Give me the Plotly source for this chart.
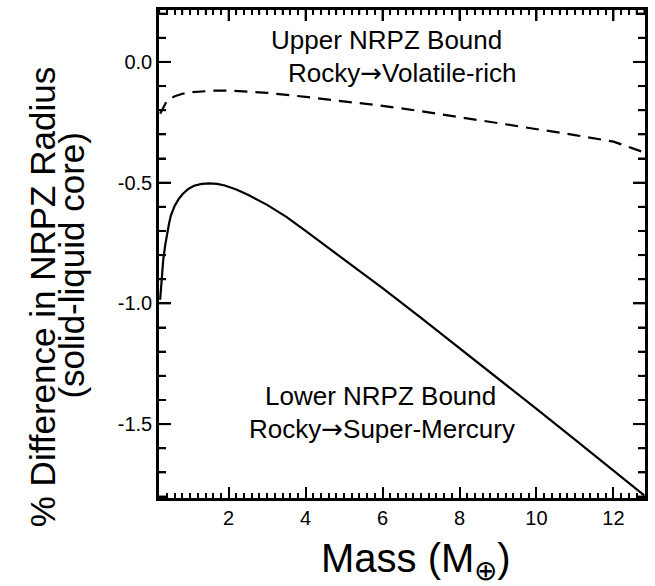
import plotly.graph_objects as go

# ---- data ----
mass_upper = [0.22, 0.3, 0.4, 0.6, 0.8, 1.0, 1.3, 1.6, 2.0, 2.5, 3.0, 4.0, 5.0, 6.0,
              7.0, 8.0, 9.0, 10.0, 11.0, 12.0, 12.75]
diff_upper = [-0.215, -0.19, -0.16, -0.142, -0.132, -0.126, -0.121, -0.119, -0.119,
              -0.122, -0.128, -0.145, -0.163, -0.182, -0.204, -0.228, -0.252, -0.277,
              -0.303, -0.33, -0.372]

mass_lower = [0.22, 0.26, 0.3, 0.35, 0.4, 0.45, 0.5, 0.6, 0.7, 0.8, 0.95, 1.1, 1.3, 1.5,
              1.7, 1.9, 2.2, 2.5, 3.0, 3.5, 4.0, 5.0, 6.0, 7.0, 8.0, 9.0, 10.0, 11.0,
              12.0, 12.8]
diff_lower = [-0.985, -0.9, -0.82, -0.76, -0.71, -0.67, -0.635, -0.595, -0.568, -0.548,
              -0.526, -0.513, -0.505, -0.503, -0.505, -0.512, -0.528, -0.55, -0.592,
              -0.642, -0.70, -0.817, -0.937, -1.06, -1.185, -1.311, -1.437, -1.564,
              -1.692, -1.795]

x_tickvals = [2, 4, 6, 8, 10, 12]
x_ticktext = ["2", "4", "6", "8", "10", "12"]
y_tickvals = [0.0, -0.5, -1.0, -1.5]
y_ticktext = ["0.0", "-0.5", "-1.0", "-1.5"]

ARROW = "<span style=\"font-family:'DejaVu Sans'\">\u2192</span>"
upper_label = ["Upper NRPZ Bound", "Rocky" + ARROW + "Volatile-rich"]
lower_label = ["Lower NRPZ Bound", "Rocky" + ARROW + "Super-Mercury"]
x_title = "Mass (M<sub>\u2295</sub>)"
y_title = ["% Difference in NRPZ Radius", "(solid-liquid core)"]

# ---- layout geometry ----
W, H = 655, 586
L, R, T, B = 159, 648, 10, 498
FONT = "Liberation Sans, Arial, Helvetica, sans-serif"
X_RANGE = [0.19, 12.82]
Y_RANGE = [-1.806, 0.215]
X_SCALE = (R - L) / (X_RANGE[1] - X_RANGE[0])   # px per x unit
Y_SCALE = (B - T) / (Y_RANGE[1] - Y_RANGE[0])   # px per y unit

X_MINOR = [round(0.2 * k, 1) for k in range(1, 65)
           if X_RANGE[0] < 0.2 * k <= X_RANGE[1] and k % 10 != 0]
Y_MINOR = [round(-0.1 * k, 1) for k in range(-2, 19) if k % 5 != 0]


def px(xp):
    return (xp - L) / (R - L)


def py(yp):
    return (B - yp) / (B - T)


def tick_segments(vals, along, length_px):
    """Inside ticks for the top ('x') or left/right ('y') frame sides."""
    xs, ys = [], []
    for v in vals:
        if along == "top":
            y0 = Y_RANGE[1]
            xs += [v, v, None]
            ys += [y0, y0 - length_px / Y_SCALE, None]
        elif along == "right":
            x0 = X_RANGE[1]
            xs += [x0, x0 - length_px / X_SCALE, None]
            ys += [v, v, None]
        else:  # left
            x0 = X_RANGE[0]
            xs += [x0, x0 + length_px / X_SCALE, None]
            ys += [v, v, None]
    return xs, ys


fig = go.Figure()
fig.add_trace(go.Scatter(x=mass_upper, y=diff_upper, mode="lines",
                         line=dict(color="black", width=2.2, dash="13px,8px"),
                         showlegend=False))
fig.add_trace(go.Scatter(x=mass_lower, y=diff_lower, mode="lines",
                         line=dict(color="black", width=2.2),
                         showlegend=False))

# frame ticks on the top, right and left sides (drawn through the data scales)
for vals, side, length, width in [(x_tickvals, "top", 11, 2), (X_MINOR, "top", 5, 1.5),
                                  (y_tickvals, "right", 12, 2), (Y_MINOR, "right", 7, 2),
                                  (y_tickvals, "left", 12, 2), (Y_MINOR, "left", 7, 2)]:
    tx, ty = tick_segments(vals, side, length)
    fig.add_trace(go.Scatter(x=tx, y=ty, mode="lines", showlegend=False,
                             hoverinfo="skip", line=dict(color="black", width=width)))

fig.update_layout(
    xaxis=dict(range=X_RANGE, tickmode="array", tickvals=x_tickvals,
               ticktext=x_ticktext, ticks="inside", ticklen=11, tickwidth=2,
               tickcolor="#000000", showline=True, linecolor="#000000", linewidth=2.5,
               mirror="allticks",
               minor=dict(dtick=0.2, ticks="inside", ticklen=5, tickcolor="#000000"),
               showgrid=False, zeroline=False),
    yaxis=dict(range=Y_RANGE, tickmode="array", tickvals=y_tickvals,
               ticktext=y_ticktext, ticks="inside", ticklen=12, tickwidth=2,
               tickcolor="#000000", showline=True, linecolor="#000000", linewidth=2.5,
               mirror="allticks",
               minor=dict(dtick=0.1, ticks="inside", ticklen=7, tickcolor="#000000"),
               showgrid=False, zeroline=False),
    width=W, height=H, margin=dict(l=L, r=W - R, t=T, b=H - B),
    plot_bgcolor="white", paper_bgcolor="white",
)
fig.update_xaxes(tickfont=dict(family=FONT, size=20, color="black"))
fig.update_yaxes(tickfont=dict(family=FONT, size=20, color="black"))

ann = []
for text, cx, cy in [(upper_label[0], 388, 40), (upper_label[1], 404, 73),
                     (lower_label[0], 382, 396), (lower_label[1], 383, 429)]:
    ann.append(dict(text=text, x=px(cx), y=py(cy), xref="paper", yref="paper",
                    xanchor="center", yanchor="middle", showarrow=False,
                    font=dict(family=FONT, size=26, color="black")))
ann.append(dict(text=x_title, x=px(418), y=py(561), xref="paper", yref="paper",
                xanchor="center", yanchor="middle", showarrow=False,
                font=dict(family=FONT, size=40, color="black")))
ann.append(dict(text=y_title[0], x=px(41.5), y=py(297), xref="paper", yref="paper",
                xanchor="center", yanchor="middle", showarrow=False, textangle=-90,
                font=dict(family=FONT, size=35, color="black")))
ann.append(dict(text=y_title[1], x=px(70), y=py(266), xref="paper", yref="paper",
                xanchor="center", yanchor="middle", showarrow=False, textangle=-90,
                font=dict(family=FONT, size=35, color="black")))
fig.update_layout(annotations=ann)

fig.write_html("out.html")
